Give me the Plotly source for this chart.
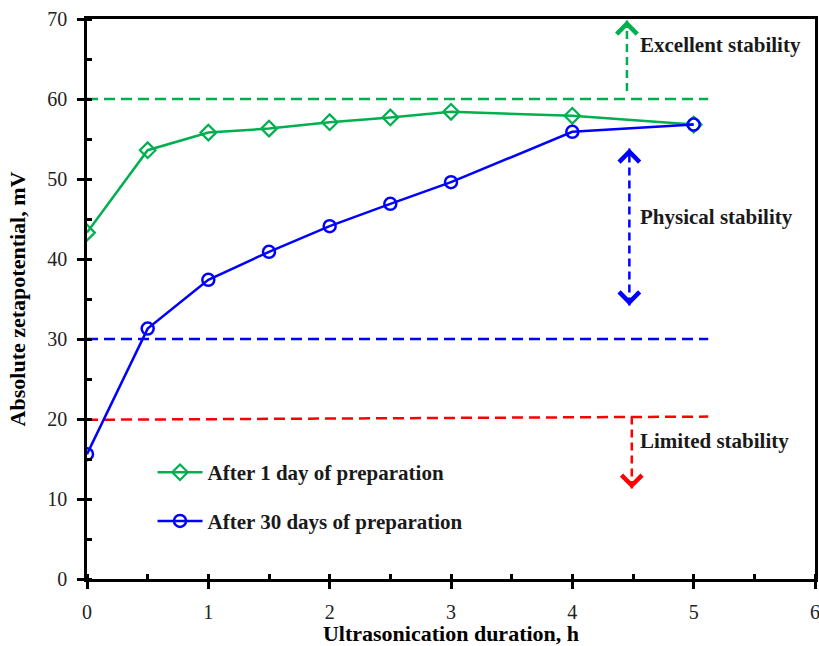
import plotly.graph_objects as go

# ---- data ----
hours = [0, 0.5, 1, 1.5, 2, 2.5, 3, 4, 5]
day1 = [43.3, 53.6, 55.8, 56.3, 57.1, 57.7, 58.4, 57.9, 56.8]
day30 = [15.6, 31.3, 37.4, 40.9, 44.1, 46.9, 49.6, 55.9, 56.8]
series_names = ["After 1 day of preparation", "After 30 days of preparation"]

# threshold lines (x-span, y values)
thr_x = [0, 5.12]
thr_excellent = [60, 60]
thr_physical = [30, 30]
thr_limited = [19.9, 20.3]

# region arrows: x position, y from, y to
arrow_excellent = dict(x=4.45, y0=61.0, y1=69.8)
arrow_physical = dict(x=4.47, y0=34.2, y1=53.8)
arrow_limited = dict(x=4.49, y0=20.3, y1=11.3)

region_labels = ["Excellent stability", "Physical stability", "Limited stability"]
region_label_x = [4.54, 4.54, 4.54]
region_label_y = [66.7, 45.3, 17.2]

x_ticks = [0, 1, 2, 3, 4, 5, 6]
y_ticks = [0, 10, 20, 30, 40, 50, 60, 70]

GREEN = "#00B050"
BLUE = "#0000FF"
RED = "#FF0000"
SERIF = "Liberation Serif"
DASH = "11px,6px"

fig = go.Figure()

# threshold dashed lines
for yv, col in [(thr_excellent, GREEN), (thr_physical, BLUE), (thr_limited, RED)]:
    fig.add_trace(go.Scatter(x=thr_x, y=yv, mode="lines", showlegend=False,
                             line=dict(color=col, width=2.5, dash=DASH), hoverinfo="skip"))

# arrow shafts (dashed)
for a, col in [(arrow_excellent, GREEN), (arrow_physical, BLUE), (arrow_limited, RED)]:
    fig.add_trace(go.Scatter(x=[a["x"], a["x"]], y=[a["y0"], a["y1"]], mode="lines",
                             showlegend=False, hoverinfo="skip",
                             line=dict(color=col, width=2.5, dash="8px,5px")))

# data series
fig.add_trace(go.Scatter(x=hours, y=day1, mode="lines+markers", name=series_names[0],
                         line=dict(color=GREEN, width=2.5),
                         marker=dict(symbol="diamond-open", size=12, color=GREEN,
                                     line=dict(width=2.2, color=GREEN)),
                         legend="legend"))
fig.add_trace(go.Scatter(x=hours, y=day30, mode="lines+markers", name=series_names[1],
                         line=dict(color=BLUE, width=2.5),
                         marker=dict(symbol="circle-open", size=12, color=BLUE,
                                     line=dict(width=2.5, color=BLUE)),
                         legend="legend2"))

# arrow heads
def head(x, y, direction, col):
    fig.add_annotation(x=x, y=y, xref="x", yref="y", text="", showarrow=True,
                       ax=0, ay=(9 if direction == "up" else -9),
                       arrowhead=4, arrowsize=1.8, arrowwidth=2.2, arrowcolor=col)

head(arrow_excellent["x"], arrow_excellent["y1"], "up", GREEN)
head(arrow_physical["x"], arrow_physical["y1"], "up", BLUE)
head(arrow_physical["x"], arrow_physical["y0"], "down", BLUE)
head(arrow_limited["x"], arrow_limited["y1"], "down", RED)

for t, xv, yv in zip(region_labels, region_label_x, region_label_y):
    fig.add_annotation(x=xv, y=yv, xref="x", yref="y", text="<b>" + t + "</b>",
                       showarrow=False, xanchor="left", yanchor="middle",
                       font=dict(family=SERIF, size=21, color="#1a1a1a"))

axis_common = dict(showline=True, linecolor="black", linewidth=2.5, mirror=True,
                   showgrid=False, zeroline=False, ticks="outside", ticklen=7,
                   tickwidth=2.5, tickcolor="black", automargin=False,
                   ticklabeloverflow="allow",
                   tickfont=dict(family=SERIF, size=20, color="#222"))

fig.update_xaxes(range=[0, 6], tickvals=x_ticks, ticklabelstandoff=6,
                 minor=dict(dtick=0.5, ticks="inside", ticklen=5, tickwidth=2.5,
                            tickcolor="black"),
                 title=dict(text="<b>Ultrasonication duration, h</b>", standoff=12,
                            font=dict(family=SERIF, size=22, color="black")),
                 **axis_common)
fig.update_yaxes(range=[0, 70], tickvals=y_ticks, ticklabelstandoff=6,
                 minor=dict(dtick=5, ticks="inside", ticklen=5, tickwidth=2.5,
                            tickcolor="black"),
                 title=dict(text="<b>Absolute zetapotential, mV</b>", standoff=16,
                            font=dict(family=SERIF, size=22, color="black")),
                 **axis_common)

legend_font = dict(family=SERIF, size=21, color="#1a1a1a", weight="bold")
fig.update_layout(
    width=819, height=646,
    margin=dict(l=87, r=4, t=19, b=67),
    plot_bgcolor="white", paper_bgcolor="white",
    legend=dict(x=0.09, y=0.19, xanchor="left", yanchor="middle", itemwidth=45,
                bgcolor="rgba(0,0,0,0)", font=legend_font),
    legend2=dict(x=0.09, y=0.103, xanchor="left", yanchor="middle", itemwidth=45,
                 bgcolor="rgba(0,0,0,0)", font=legend_font),
)

fig.write_html("out.html")
